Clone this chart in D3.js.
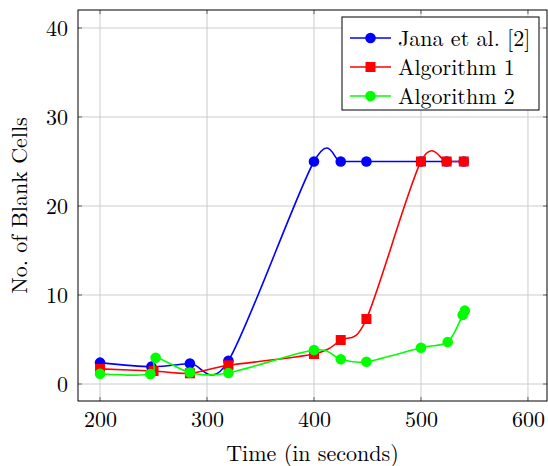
<!DOCTYPE html>
<html>
<head>
<meta charset="utf-8">
<script src="https://cdn.jsdelivr.net/npm/d3@7"></script>
<style>
  html, body { margin: 0; padding: 0; background: #fff; }
  svg { display: block; }
</style>
</head>
<body>
<svg id="chart" width="548" height="466"></svg>
<script>
// ---- data ----
const janaX = [200, 248, 284, 320, 400, 425, 449, 500, 524, 540];
const janaY = [2.4, 1.95, 2.3, 2.6, 25, 25, 25, 25, 25, 25];
const alg1X = [200, 250, 284, 320, 400, 425, 449, 500, 524, 540];
const alg1Y = [1.7, 1.46, 1.2, 2.1, 3.37, 4.94, 7.3, 25, 25, 25];
const alg2X = [200, 247, 252, 284, 320, 400, 425, 449, 500, 525, 539, 541];
const alg2Y = [1.16, 1.12, 2.95, 1.3, 1.24, 3.82, 2.78, 2.5, 4.08, 4.72, 7.75, 8.24];
const xTicks = [200, 300, 400, 500, 600];
const yTicks = [0, 10, 20, 30, 40];
const seriesNames = ["Jana et al. [2]", "Algorithm 1", "Algorithm 2"];
const seriesColors = ["#0000ff", "#ff0000", "#00ff00"];
const seriesMarkers = ["circle", "square", "circle"];
const xLabel = "Time (in seconds)";
const yLabel = "No. of Blank Cells";

const FONT = "'Latin Modern Roman', 'Liberation Serif', serif";
const FS = 22;

// ---- layout ----
const L = 78, R = 547, T = 10, B = 401;
const svg = d3.select("#chart");
const x = d3.scaleLinear().domain([179.4, 617.8]).range([L, R]);
const y = d3.scaleLinear().domain([-1.91, 42.02]).range([B, T]);

// grid
const g = svg.append("g");
g.selectAll("line.gx").data(xTicks).join("line")
  .attr("x1", d => x(d)).attr("x2", d => x(d)).attr("y1", T).attr("y2", B)
  .attr("stroke", "#cccccc").attr("stroke-width", 1);
g.selectAll("line.gy").data(yTicks).join("line")
  .attr("y1", d => y(d)).attr("y2", d => y(d)).attr("x1", L).attr("x2", R)
  .attr("stroke", "#cccccc").attr("stroke-width", 1);

// tick marks (inside, on all sides)
const tl = 4;
xTicks.forEach(d => {
  g.append("line").attr("x1", x(d)).attr("x2", x(d)).attr("y1", B).attr("y2", B - tl).attr("stroke", "#666").attr("stroke-width", 1);
  g.append("line").attr("x1", x(d)).attr("x2", x(d)).attr("y1", T).attr("y2", T + tl).attr("stroke", "#666").attr("stroke-width", 1);
});
yTicks.forEach(d => {
  g.append("line").attr("y1", y(d)).attr("y2", y(d)).attr("x1", L).attr("x2", L + tl).attr("stroke", "#666").attr("stroke-width", 1);
  g.append("line").attr("y1", y(d)).attr("y2", y(d)).attr("x1", R).attr("x2", R - tl).attr("stroke", "#666").attr("stroke-width", 1);
});

// axes labels via d3 axes (no domain/ticks lines)
const xAxis = svg.append("g").attr("transform", `translate(0,${B})`)
  .call(d3.axisBottom(x).tickValues(xTicks).tickSize(0).tickPadding(10).tickFormat(d3.format("d")));
xAxis.select(".domain").remove();
xAxis.selectAll("text").style("font-family", FONT).style("font-size", FS + "px").attr("fill", "#000");

const yAxis = svg.append("g").attr("transform", `translate(${L},0)`)
  .call(d3.axisLeft(y).tickValues(yTicks).tickSize(0).tickPadding(10).tickFormat(d3.format("d")));
yAxis.select(".domain").remove();
yAxis.selectAll("text").style("font-family", FONT).style("font-size", FS + "px").attr("fill", "#000");

// frame
svg.append("rect").attr("x", L).attr("y", T).attr("width", R - L).attr("height", B - T)
  .attr("fill", "none").attr("stroke", "#000").attr("stroke-width", 1);

// axis titles
svg.append("text").attr("x", (L + R) / 2).attr("y", 461).attr("text-anchor", "middle")
  .style("font-family", FONT).style("font-size", FS + "px").text(xLabel);
svg.append("text").attr("transform", `translate(27,${(T + B) / 2}) rotate(-90)`)
  .attr("text-anchor", "middle").style("font-family", FONT).style("font-size", FS + "px").text(yLabel);

// series
const series = [
  { xs: janaX, ys: janaY },
  { xs: alg1X, ys: alg1Y },
  { xs: alg2X, ys: alg2Y }
];
const line = d3.line().x(d => x(d[0])).y(d => y(d[1])).curve(d3.curveCardinal.tension(0.085));
const plot = svg.append("g");
function drawMarker(sel, type, cx, cy, color) {
  if (type === "circle") {
    sel.append("circle").attr("cx", cx).attr("cy", cy).attr("r", 5.3).attr("fill", color);
  } else {
    sel.append("rect").attr("x", cx - 5).attr("y", cy - 5).attr("width", 10).attr("height", 10).attr("fill", color);
  }
}
series.forEach((s, i) => {
  const pts = s.xs.map((v, k) => [v, s.ys[k]]);
  plot.append("path").attr("d", line(pts)).attr("fill", "none")
    .attr("stroke", seriesColors[i]).attr("stroke-width", 1.6);
  pts.forEach(p => drawMarker(plot, seriesMarkers[i], x(p[0]), y(p[1]), seriesColors[i]));
});

// legend
const lg = svg.append("g");
const lx = 342, ly = 17, lw = 197, lh = 93;
lg.append("rect").attr("x", lx).attr("y", ly).attr("width", lw).attr("height", lh)
  .attr("fill", "#fff").attr("stroke", "#000").attr("stroke-width", 1);
seriesNames.forEach((name, i) => {
  const ry = 38 + i * 29;
  lg.append("line").attr("x1", 350).attr("x2", 391).attr("y1", ry).attr("y2", ry)
    .attr("stroke", seriesColors[i]).attr("stroke-width", 1.6);
  drawMarker(lg, seriesMarkers[i], 370.5, ry, seriesColors[i]);
  lg.append("text").attr("x", 398).attr("y", ry).attr("dy", "0.38em")
    .style("font-family", FONT).style("font-size", FS + "px").text(name);
});
</script>
</body>
</html>
